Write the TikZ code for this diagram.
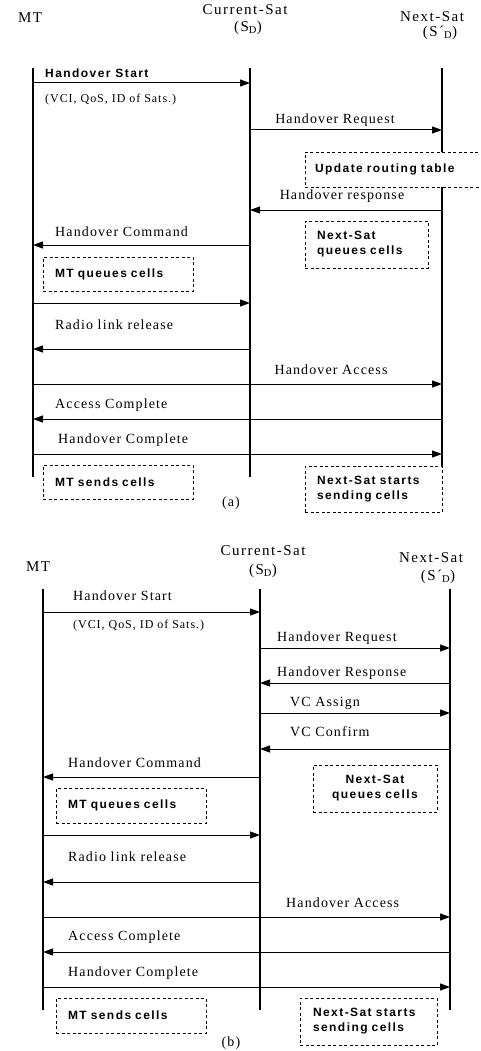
\documentclass[tikz,border=0pt]{standalone}
\usepackage{fontspec}
\setmainfont{Liberation Serif}[LetterSpace=8]
\newfontfamily\boxfont{Liberation Sans}[LetterSpace=12]
\usetikzlibrary{arrows.meta}

\begin{document}
\begin{tikzpicture}[x=1pt,y=-1pt,
  life/.style={line width=1.2pt},
  msg/.style={line width=1pt,-{Triangle[length=10pt,width=7pt]}},
  lbl/.style={font=\fontsize{14}{16}\selectfont,inner sep=0pt},
  small/.style={font=\fontsize{12}{14}\selectfont,inner sep=0pt},
  head/.style={font=\fontsize{15}{17}\selectfont\addfontfeature{LetterSpace=10},inner sep=0pt},
  bold/.style={font=\boxfont\bfseries\fontsize{12}{15}\selectfont,inner sep=0pt},
  cellbox/.style={draw,dash pattern=on 3pt off 2.5pt,line width=0.9pt,
    font=\boxfont\bfseries\fontsize{12}{15}\selectfont,align=left,
    inner xsep=12pt,inner ysep=0pt}]
\useasboundingbox (0,0) rectangle (481,1051);
\clip (0,0) rectangle (481,1051);

% ---------- (a) ----------
\node[head] (mtA) at (30,18) {MT};
\node[head] (csA) at (245,10) {Current-Sat};
\node[head] (csAs) at (248,28) {(S\textsubscript{D})};
\node[head] (nsA) at (432,17) {Next-Sat};
\node[head] (nsAs) at (440,33) {(S\textasciiacute\textsubscript{D})};

\coordinate (mtA top) at (33,68);  \coordinate (mtA bot) at (33,477);
\coordinate (csA top) at (250,68); \coordinate (csA bot) at (250,477);
\coordinate (nsA top) at (442,68); \coordinate (nsA bot) at (442,466);

\foreach \n/\y in {1/83,2/130,3/210,4/245,5/303,6/349,7/384,8/419,9/454}{
  \coordinate (mtA-\n) at (33,\y);
  \coordinate (csA-\n) at (250,\y);
  \coordinate (nsA-\n) at (442,\y);
}

\node[cellbox,minimum width=190pt,minimum height=35pt,text width=170pt,inner xsep=10pt] (updA) at (400,169.5) {Update routing table};
\node[cellbox,minimum width=123pt,minimum height=47pt,text width=99pt] (nqA) at (366.5,244.5) {Next-Sat\\queues cells};
\node[cellbox,minimum width=150pt,minimum height=34pt,text width=126pt] (mqA) at (118,274) {MT queues cells};
\node[cellbox,minimum width=150pt,minimum height=34pt,text width=126pt] (msA) at (118,482) {MT sends cells};
\node[cellbox,minimum width=137pt,minimum height=46pt,text width=113pt] (nssA) at (373.5,489) {Next-Sat starts\\sending cells};

\draw[life] (mtA top) -- (mtA bot);
\draw[life] (csA top) -- (csA bot);
\draw[life] (nsA top) -- (nsA top |- updA.north);
\draw[life] (nsA top |- updA.south) -- (nsA bot);

\foreach \a/\b/\n in {mtA/csA/1,csA/nsA/2,nsA/csA/3,csA/mtA/4,mtA/csA/5,
                      csA/mtA/6,mtA/nsA/7,nsA/mtA/8,mtA/nsA/9}
  \draw[msg] (\a-\n) -- (\b-\n);

\node[bold,anchor=west] (hsA) at (45,73) {Handover Start};
\node[small,anchor=west] (vciA) at (45,100) {(VCI, QoS, ID of Sats.)};
\node[lbl] (hrqA) at (335,120) {Handover Request};
\node[lbl] (hrsA) at (342,196) {Handover response};
\node[lbl,anchor=west] (hcmA) at (55,232) {Handover Command};
\node[lbl,anchor=west] (rlrA) at (55,325) {Radio link release};
\node[lbl] (haA) at (331,370) {Handover Access};
\node[lbl,anchor=west] (acA) at (55,405) {Access Complete};
\node[lbl,anchor=west] (hcpA) at (58,440) {Handover Complete};
\node[lbl] (capA) at (231,503) {(a)};

% ---------- (b) ----------
\node[head] (mtB) at (38,567) {MT};
\node[head] (csB) at (263,551) {Current-Sat};
\node[head] (csBs) at (263,571) {(S\textsubscript{D})};
\node[head] (nsB) at (431,558) {Next-Sat};
\node[head] (nsBs) at (438,577) {(S\textasciiacute\textsubscript{D})};

\coordinate (mtB top) at (43,589);  \coordinate (mtB bot) at (43,1010);
\coordinate (csB top) at (260,589); \coordinate (csB bot) at (260,1010);
\coordinate (nsB top) at (450,589); \coordinate (nsB bot) at (450,1010);

\foreach \n/\y in {1/612,2/648,3/683,4/713,5/749,6/777,7/835,8/882,9/917,10/952,11/987}{
  \coordinate (mtB-\n) at (43,\y);
  \coordinate (csB-\n) at (260,\y);
  \coordinate (nsB-\n) at (450,\y);
}

\draw[life] (mtB top) -- (mtB bot);
\draw[life] (csB top) -- (csB bot);
\draw[life] (nsB top) -- (nsB bot);

\foreach \a/\b/\n in {mtB/csB/1,csB/nsB/2,nsB/csB/3,csB/nsB/4,nsB/csB/5,csB/mtB/6,
                      mtB/csB/7,csB/mtB/8,mtB/nsB/9,nsB/mtB/10,mtB/nsB/11}
  \draw[msg] (\a-\n) -- (\b-\n);

\node[lbl,anchor=west] (hsB) at (73,596) {Handover Start};
\node[small,anchor=west] (vciB) at (73,626) {(VCI, QoS, ID of Sats.)};
\node[lbl,anchor=west] (hrqB) at (277,638) {Handover Request};
\node[lbl,anchor=west] (hrsB) at (277,673) {Handover Response};
\node[lbl,anchor=west] (vcaB) at (290,703) {VC Assign};
\node[lbl,anchor=west] (vccB) at (290,732) {VC Confirm};
\node[lbl,anchor=west] (hcmB) at (68,763) {Handover Command};
\node[lbl,anchor=west] (rlrB) at (68,857) {Radio link release};
\node[lbl,anchor=west] (haB) at (286,903) {Handover Access};
\node[lbl,anchor=west] (acB) at (68,937) {Access Complete};
\node[lbl,anchor=west] (hcpB) at (68,973) {Handover Complete};

\node[cellbox,align=center,minimum width=124pt,minimum height=47pt,text width=100pt] (nqB) at (375,788.5) {Next-Sat\\queues cells};
\node[cellbox,minimum width=150pt,minimum height=35pt,text width=126pt] (mqB) at (131,805.5) {MT queues cells};
\node[cellbox,minimum width=150pt,minimum height=35pt,text width=126pt] (msB) at (131,1015.5) {MT sends cells};
\node[cellbox,minimum width=137pt,minimum height=47pt,text width=111pt,inner xsep=13pt] (nssB) at (368.5,1021.5) {Next-Sat starts\\sending cells};
\node[lbl] (capB) at (231,1043) {(b)};
\end{tikzpicture}
\end{document}
